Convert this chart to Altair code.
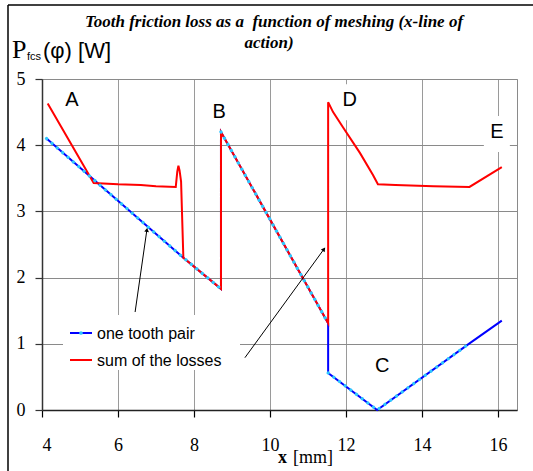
import altair as alt
import pandas as pd

# One tooth pair: friction loss along the line of action
tooth_x = [4.12, 7.72, 8.71, 8.71, 11.53, 11.53, 12.82, 15.26, 16.10]
tooth_y = [4.10, 2.30, 1.83, 4.20, 1.31, 0.56, 0.00, 1.01, 1.35]
# marker runs on the tooth-pair curve (0 = plain line, no markers)
tooth_run = [1, 1, 1, 2, 2, 3, 3, 3, 0]

# Sum of the losses of all pairs in mesh
loss_x = [4.15, 5.36, 6.0, 6.6, 7.0, 7.52, 7.56, 7.59, 7.62, 7.66, 7.72,
          8.71, 8.71, 11.53, 11.53, 11.66, 11.92, 12.37, 12.71, 12.84,
          13.3, 14.3, 15.25, 16.10]
loss_y = [4.63, 3.43, 3.41, 3.40, 3.38, 3.37, 3.60, 3.69, 3.62, 3.45, 2.30,
          1.83, 4.20, 1.31, 4.65, 4.50, 4.27, 3.88, 3.55, 3.41,
          3.40, 3.38, 3.37, 3.67]

# Point labels
mark_letters = ["A", "B", "D", "E", "C"]
mark_x = [4.79, 8.66, 12.10, 15.97, 12.95]
mark_y = [4.68, 4.50, 4.68, 4.20, 0.66]

# Pointer lines from the legend to the curves
arrow_x0 = [6.45, 9.34]
arrow_y0 = [1.48, 0.79]
arrow_x1 = [6.76, 11.42]
arrow_y1 = [2.72, 2.43]
arrow_angle = [8, 36]

series = ["one tooth pair", "sum of the losses"]

SERIF = "Liberation Serif"
SANS = "Liberation Sans"
W, H = 475, 331

tooth = pd.DataFrame({"x": tooth_x, "y": tooth_y, "run": tooth_run,
                      "i": range(len(tooth_x)), "s": series[0]})
loss = pd.DataFrame({"x": loss_x, "y": loss_y, "i": range(len(loss_x)),
                     "s": series[1]})
dots = tooth[tooth["run"] > 0]
letters = pd.DataFrame({"t": mark_letters, "x": mark_x, "y": mark_y})
arrows = pd.DataFrame({"x": arrow_x0, "y": arrow_y0, "x2": arrow_x1,
                       "y2": arrow_y1, "a": arrow_angle})
one = pd.DataFrame({"k": [0]})

xs = alt.Scale(domain=[4, 16.5], nice=False, zero=False)
ys = alt.Scale(domain=[0, 5], nice=False)
color = alt.Color("s:N", scale=alt.Scale(domain=series, range=["#0000ff", "#ff0000"]),
                  legend=None)

x_axis = alt.Axis(
    values=list(range(4, 17)), title=None, grid=True, gridColor="#9a9a9a",
    gridWidth=1, format="d", labelExpr="datum.value % 2 == 0 ? datum.label : ''",
    labelFont=SERIF, labelFontSize=18, labelColor="black",
    labelBaseline="alphabetic", labelPadding=33, tickSize=7,
    tickColor={"condition": {"test": "datum.value % 2 == 0", "value": "black"},
               "value": "transparent"},
    tickWidth=1.2, domainColor="#222", domainWidth=1.5,
)
y_axis = alt.Axis(
    values=[0, 1, 2, 3, 4, 5], title=None, grid=True, gridColor="#8a8a8a",
    gridWidth=1, format="d", labelFont=SERIF, labelFontSize=18,
    labelColor="black", labelPadding=10, tickSize=7, tickColor="#333",
    tickWidth=1.2, domainColor="#333", domainWidth=1.5,
)

X = alt.X("x:Q", scale=xs, axis=x_axis)
Y = alt.Y("y:Q", scale=ys, axis=y_axis)

# white boxes behind the point letters
letter_boxes = alt.Chart(letters).mark_rect(
    color="white", xOffset=-13, x2Offset=13, yOffset=-16, y2Offset=20
).encode(x=X, x2="x:Q", y=Y, y2="y:Q")

# legend panel
legend_box = alt.Chart(one).mark_rect(color="white").encode(
    x=alt.value(21), x2=alt.value(198), y=alt.value(236), y2=alt.value(291))

tooth_line = alt.Chart(tooth).mark_line(strokeWidth=2).encode(
    x=X, y=Y, order="i:Q", color=color)
loss_line = alt.Chart(loss).mark_line(strokeWidth=2).encode(
    x=X, y=Y, order="i:Q", color=color)
tooth_dots = alt.Chart(dots).mark_line(
    color="#2ec8ff", strokeWidth=3.3, strokeDash=[0.1, 7], strokeCap="round"
).encode(x=X, y=Y, detail="run:N", order="i:Q")

arrow_lines = alt.Chart(arrows).mark_rule(color="black", strokeWidth=1).encode(
    x=X, y=Y, x2="x2:Q", y2="y2:Q")
arrow_heads = alt.Chart(arrows).mark_point(
    shape="triangle-up", filled=True, color="black", size=22, opacity=1
).encode(x=alt.X("x2:Q", scale=xs), y=alt.Y("y2:Q", scale=ys),
         angle=alt.Angle("a:Q", scale=None))

letter_text = alt.Chart(letters).mark_text(
    font=SANS, fontSize=20, color="black", baseline="middle", align="center"
).encode(x=X, y=Y, text="t:N")


def label(text, x, y, font, size, **kw):
    return alt.Chart(one).mark_text(
        text=text, font=font, fontSize=size, color="black",
        baseline="alphabetic", **kw
    ).encode(x=alt.value(x), y=alt.value(y))


legend_parts = [
    alt.Chart(one).mark_rule(color="#0000ff", strokeWidth=2).encode(
        x=alt.value(28), x2=alt.value(50), y=alt.value(254)),
    alt.Chart(one).mark_point(filled=True, color="#2ec8ff", size=14, opacity=1).encode(
        x=alt.value(39), y=alt.value(254)),
    alt.Chart(one).mark_rule(color="#ff0000", strokeWidth=2).encode(
        x=alt.value(28), x2=alt.value(50), y=alt.value(281)),
    label("one tooth pair", 55, 260, SANS, 16, align="left"),
    label("sum of the losses", 55, 287, SANS, 16, align="left"),
]

texts = [
    label("Tooth friction loss as a\u00a0 function of meshing (x-line of", 232, -52,
          SERIF, 17, align="center", fontStyle="italic", fontWeight="bold"),
    label("action)", 227, -31, SERIF, 17, align="center",
          fontStyle="italic", fontWeight="bold"),
    label("P", -30, -21, SERIF, 26, align="left"),
    label("fcs", -15, -19, SANS, 11, align="left"),
    label("(φ) [W]", 1, -21, SANS, 22, align="left"),
    label("x", 236, 384, SERIF, 18, align="left", fontWeight="bold"),
    label("[mm]", 251, 384, SERIF, 18, align="left"),
]

# outer frame (left and top edges)
frame = [
    alt.Chart(one).mark_rule(color="black", strokeWidth=1.5).encode(
        x=alt.value(-34), y=alt.value(-74), y2=alt.value(H + 70)),
    alt.Chart(one).mark_rule(color="black", strokeWidth=1.5).encode(
        x=alt.value(-34), x2=alt.value(W + 20), y=alt.value(-74)),
]

chart = alt.layer(
    letter_boxes, legend_box, tooth_line, loss_line, tooth_dots,
    arrow_lines, arrow_heads, letter_text, *legend_parts, *texts, *frame
).properties(
    width=W, height=H,
    autosize=alt.AutoSizeParams(type="none"),
    padding={"left": 42, "top": 79, "right": 16, "bottom": 61},
    background="white",
).configure_view(stroke="#8a8a8a", strokeWidth=1)

chart.save("out.html", embed_options={"renderer": "svg", "actions": False})
